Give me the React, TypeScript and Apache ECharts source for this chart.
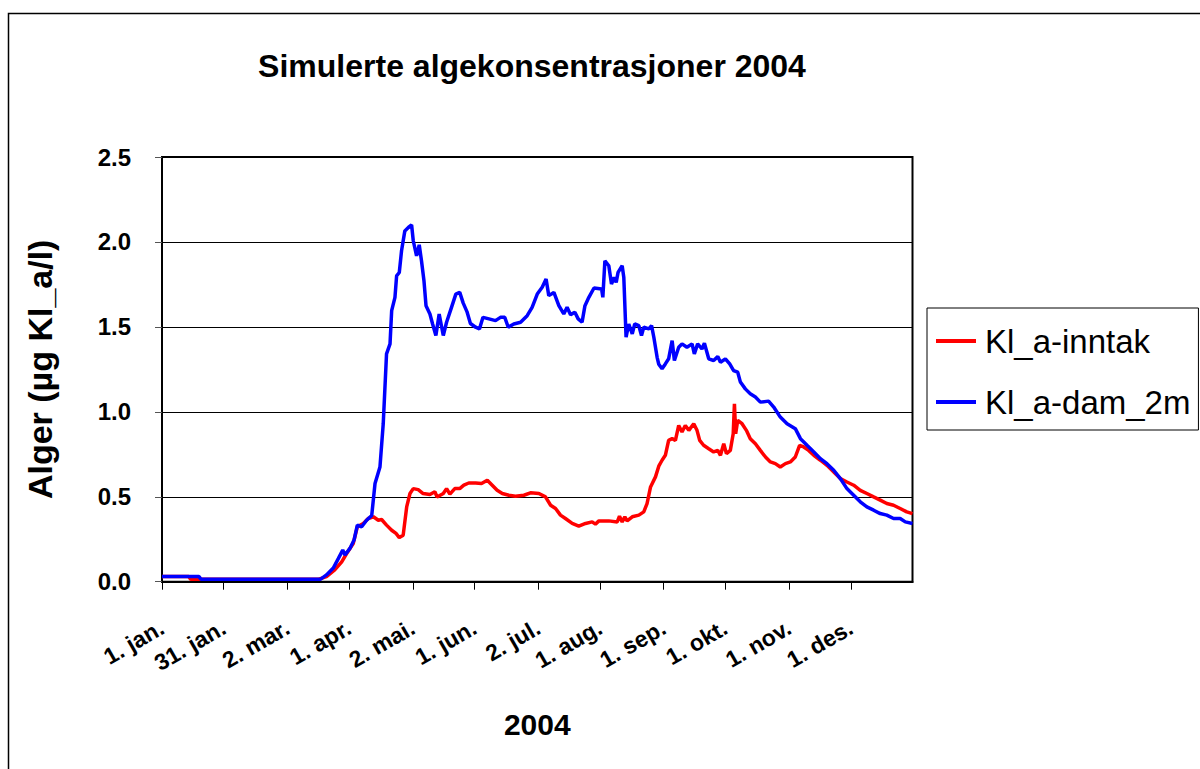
import React, { useEffect, useRef } from "react";
import * as echarts from "echarts";

const TITLE = "Simulerte algekonsentrasjoner 2004";
const Y_NAME = "Alger (µg Kl_a/l)";
const X_NAME = "2004";

const tickDays = [0, 30, 61, 91, 122, 152, 183, 213, 244, 274, 305, 335];
const tickLabels = ["1. jan.", "31. jan.", "2. mar.", "1. apr.", "2. mai.", "1. jun.", "2. jul.", "1. aug.", "1. sep.", "1. okt.", "1. nov.", "1. des."];

const seriesNames = ["Kl_a-inntak", "Kl_a-dam_2m"];

// [day of year, µg Kl_a/l]
const inntak: [number, number][] = [
  [0, 0.03], [13, 0.03], [14, 0.014], [76, 0.014], [80, 0.03], [84, 0.069], [87.4, 0.117], [89.8, 0.166],
  [93, 0.225], [95, 0.323], [97.9, 0.343], [100.3, 0.372], [102.8, 0.382], [105.2, 0.362], [106.8, 0.366],
  [109.2, 0.333], [111.7, 0.303], [113.8, 0.284], [115.4, 0.26], [117.3, 0.274], [119, 0.44], [120.6, 0.519],
  [122.2, 0.548], [124.6, 0.542], [127, 0.519], [130.3, 0.513], [132.7, 0.529], [133.8, 0.499], [136.8, 0.519],
  [138.4, 0.548], [140, 0.515], [142.4, 0.548], [144.8, 0.548], [146.8, 0.568], [149.2, 0.581], [152.5, 0.581],
  [155.4, 0.578], [158.2, 0.597], [160.6, 0.568], [163, 0.538], [165.5, 0.519], [168.7, 0.509], [171.9, 0.503],
  [176, 0.509], [179.2, 0.523], [183.3, 0.519], [186.5, 0.499], [189, 0.45], [191.4, 0.431], [193.8, 0.392],
  [196.2, 0.372], [199.5, 0.343], [202.7, 0.327], [206, 0.343], [209.2, 0.352], [210.8, 0.339], [212.5, 0.358],
  [217.3, 0.358], [221.4, 0.352], [222.5, 0.386], [223.8, 0.352], [225.1, 0.382], [226.2, 0.358], [228.7, 0.382],
  [231.9, 0.392], [234.3, 0.411], [235.9, 0.46], [237.6, 0.558], [240, 0.617], [241.6, 0.68], [243.2, 0.715],
  [244.8, 0.744], [246.4, 0.832], [248.1, 0.842], [249.7, 0.832], [251.3, 0.92], [252.9, 0.881], [254.5, 0.92],
  [256.2, 0.891], [258.6, 0.93], [260.2, 0.891], [261.5, 0.832], [263.4, 0.803], [265.9, 0.783], [268.3, 0.764],
  [270.3, 0.773], [271.6, 0.744], [273.2, 0.812], [274.5, 0.754], [276.4, 0.773], [277.8, 0.871], [278.4, 1.047],
  [279, 0.871], [280, 0.95], [282.1, 0.93], [284.2, 0.891], [286.1, 0.842], [288.6, 0.812], [291, 0.773],
  [293.5, 0.734], [295.9, 0.705], [298.3, 0.695], [300.7, 0.675], [303.2, 0.695], [305.6, 0.705], [308, 0.734],
  [310.1, 0.803], [312.1, 0.793], [314.5, 0.773], [317, 0.744], [320.2, 0.715], [323.4, 0.685], [326.7, 0.646],
  [329.9, 0.607], [333.1, 0.587], [336.4, 0.568], [339.6, 0.538], [342.8, 0.519], [346.1, 0.499], [349.3, 0.48],
  [352.5, 0.46], [355.8, 0.45], [359, 0.431], [362.2, 0.411], [365, 0.401],
];

const dam2m: [number, number][] = [
  [0, 0.03], [18, 0.03], [19, 0.014], [77, 0.014], [80, 0.04], [83.3, 0.08], [85.8, 0.137], [87.9, 0.186],
  [89, 0.157], [91.4, 0.196], [93.4, 0.245], [95, 0.333], [97.1, 0.323], [99.5, 0.362], [102, 0.39],
  [103.6, 0.578], [106, 0.675], [107.6, 0.93], [109.2, 1.341], [110.9, 1.4], [111.7, 1.596], [113.3, 1.674],
  [114.1, 1.8], [115.4, 1.82], [116.5, 1.948], [118.1, 2.065], [119.8, 2.085], [121.4, 2.1], [122.2, 2.007],
  [123.8, 1.918], [125.1, 1.983], [126.2, 1.889], [127.4, 1.772], [128.4, 1.625], [130.3, 1.576], [131.6, 1.517],
  [133.2, 1.449], [134.8, 1.576], [136.8, 1.449], [138.4, 1.527], [140.8, 1.615], [142.9, 1.693], [144.8, 1.703],
  [146.5, 1.64], [148.3, 1.59], [150, 1.52], [152.5, 1.498], [154.4, 1.488], [156.1, 1.556], [159, 1.547],
  [162.2, 1.537], [164.6, 1.556], [166.7, 1.556], [168.4, 1.498], [171.1, 1.517], [174.4, 1.527], [177.6, 1.566],
  [180, 1.615], [182.5, 1.693], [184.9, 1.733], [186.8, 1.782], [188.1, 1.684], [190.6, 1.703], [193, 1.625],
  [195.4, 1.576], [197, 1.615], [198.7, 1.572], [200.8, 1.586], [202.4, 1.547], [204.3, 1.527], [205.7, 1.625],
  [207.6, 1.674], [210.1, 1.729], [213.8, 1.723], [214.4, 1.674], [215.4, 1.889], [217.3, 1.86], [218.6, 1.752],
  [219.9, 1.791], [220.9, 1.762], [221.8, 1.821], [223.8, 1.86], [224.6, 1.791], [225.7, 1.439], [227, 1.517],
  [228.7, 1.459], [229.9, 1.517], [231.9, 1.507], [233.2, 1.449], [234.3, 1.498], [236.8, 1.488], [238.1, 1.507],
  [239.2, 1.439], [240.8, 1.321], [241.6, 1.28], [243.2, 1.253], [244.8, 1.282], [246.4, 1.312], [248.1, 1.419],
  [249.2, 1.302], [251.3, 1.38], [252.9, 1.4], [255.3, 1.38], [257.8, 1.4], [258.9, 1.341], [260.5, 1.4],
  [262.6, 1.37], [263.8, 1.404], [265.9, 1.312], [268.3, 1.302], [270.3, 1.325], [271.6, 1.292], [274, 1.312],
  [276.1, 1.282], [278, 1.243], [280, 1.233], [281.3, 1.175], [283.7, 1.135], [286.1, 1.106], [288.6, 1.087],
  [291, 1.057], [295, 1.063], [297.5, 1.028], [300.7, 0.969], [304, 0.93], [308, 0.901], [310.5, 0.842],
  [313.7, 0.803], [317, 0.764], [320.2, 0.724], [323.4, 0.695], [326.7, 0.656], [329.9, 0.607], [333.1, 0.548],
  [336.4, 0.509], [339.6, 0.47], [342.8, 0.44], [346.1, 0.421], [349.3, 0.401], [352.5, 0.392], [355.8, 0.372],
  [359, 0.372], [361.5, 0.352], [365, 0.343],
];

const SANS = "'Liberation Sans', Arial, sans-serif";

export default function App() {
  const ref = useRef<HTMLDivElement>(null);

  useEffect(() => {
    if (!ref.current) return;
    const chart = echarts.init(ref.current, null, { renderer: "svg" });
    const labelFor = (v: number) => {
      const i = tickDays.indexOf(Math.round(v));
      return i >= 0 ? tickLabels[i] : "";
    };
    chart.setOption({
      animation: false,
      backgroundColor: "#ffffff",
      title: {
        text: TITLE,
        left: 527,
        top: 45,
        textAlign: "center",
        textStyle: { fontFamily: SANS, fontWeight: "bold", fontSize: 32, color: "#000" },
      },
      legend: {
        orient: "vertical",
        left: 927,
        top: 308,
        padding: [13, 8, 8, 9],
        itemGap: 21,
        itemWidth: 40,
        itemHeight: 4,
        icon: "rect",
        borderColor: "#000",
        borderWidth: 1,
        data: seriesNames,
        textStyle: { fontFamily: SANS, fontSize: 33, lineHeight: 40, color: "#000", padding: [0, 0, 0, 4] },
      },
      grid: {
        left: 162,
        top: 157,
        width: 750.5,
        height: 424.7,
        show: true,
        borderColor: "#000",
        borderWidth: 2,
        backgroundColor: "transparent",
      },
      xAxis: {
        type: "value",
        min: 0,
        max: 365,
        name: X_NAME,
        nameLocation: "middle",
        nameGap: 128,
        nameTextStyle: { fontFamily: SANS, fontWeight: "bold", fontSize: 30, color: "#000" },
        axisLine: { show: true, lineStyle: { color: "#000", width: 2 } },
        axisTick: { show: true, customValues: tickDays, length: 8, lineStyle: { color: "#000", width: 1 } },
        axisLabel: {
          customValues: tickDays,
          formatter: (v: number) => labelFor(v),
          rotate: 30,
          margin: 44,
          fontFamily: SANS,
          fontWeight: "bold",
          fontSize: 23,
          color: "#000",
        },
        splitLine: { show: false },
      },
      yAxis: {
        type: "value",
        min: 0,
        max: 2.5,
        interval: 0.5,
        name: Y_NAME,
        nameLocation: "middle",
        nameGap: 105,
        nameTextStyle: { fontFamily: SANS, fontWeight: "bold", fontSize: 34, color: "#000" },
        axisLine: { show: true, lineStyle: { color: "#000", width: 2 } },
        axisTick: { show: true, length: 7, lineStyle: { color: "#555", width: 1 } },
        axisLabel: {
          formatter: (v: number) => v.toFixed(1),
          margin: 31,
          fontFamily: SANS,
          fontWeight: "bold",
          fontSize: 24,
          color: "#000",
        },
        splitLine: { show: true, lineStyle: { color: "#000", width: 1 } },
      },
      graphic: [
        {
          type: "rect",
          silent: true,
          z: -10,
          shape: { x: 8.5, y: 13.5, width: 1300, height: 900 },
          style: { fill: "none", stroke: "#000", lineWidth: 1.5 },
        },
      ],
      series: [
        {
          name: seriesNames[0],
          type: "line",
          data: inntak,
          showSymbol: false,
          symbol: "none",
          color: "#ff0000",
          lineStyle: { color: "#ff0000", width: 3.5 },
        },
        {
          name: seriesNames[1],
          type: "line",
          data: dam2m,
          showSymbol: false,
          symbol: "none",
          color: "#0000ff",
          lineStyle: { color: "#0000ff", width: 3.5 },
        },
      ],
    });
    return () => chart.dispose();
  }, []);

  return (
    <div
      ref={ref}
      style={{ position: "fixed", left: 0, top: 0, width: 1200, height: 769, background: "#fff" }}
    />
  );
}
